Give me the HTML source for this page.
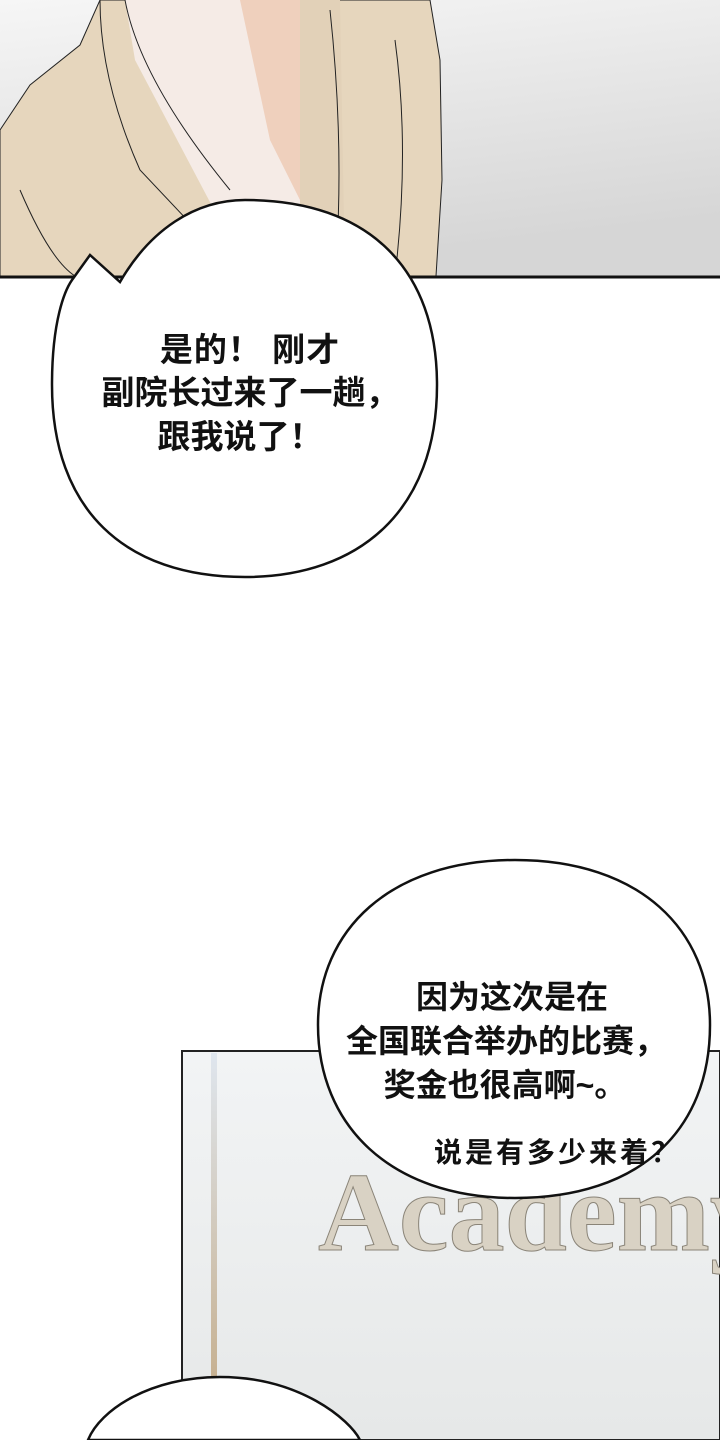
<!DOCTYPE html>
<html><head><meta charset="utf-8"><style>
html,body{margin:0;padding:0;background:#fff;}
svg{display:block}
text{font-family:"Liberation Sans","Noto Sans CJK SC",sans-serif;font-weight:bold;fill:#111}
</style></head><body>
<svg width="720" height="1440" viewBox="0 0 720 1440" xmlns="http://www.w3.org/2000/svg">
<defs>
<linearGradient id="bg" x1="0" y1="0" x2="0.3" y2="1">
<stop offset="0" stop-color="#f6f6f6"/><stop offset="1" stop-color="#d6d6d6"/></linearGradient>
<linearGradient id="bg2" x1="0" y1="0" x2="0" y2="1">
<stop offset="0" stop-color="#f2f4f5"/><stop offset="1" stop-color="#e6e8e8"/></linearGradient>
<linearGradient id="pole" x1="0" y1="0" x2="0" y2="1">
<stop offset="0" stop-color="#dfe6ee"/><stop offset="1" stop-color="#c6b090"/></linearGradient>
</defs>
<rect x="0" y="0" width="720" height="276" fill="url(#bg)"/>
<path d="M0 130 L30 85 L80 45 L100 0 L430 0 L440 60 L442 180 L436 276 L0 276 Z" fill="#e6d6bd" stroke="#222" stroke-width="1"/>
<path d="M125 0 L135 60 L230 240 L300 276 L300 0 Z" fill="#f5ebe6"/>
<path d="M240 0 L300 0 L300 200 L270 140 Z" fill="#efd0bd"/>
<path d="M300 0 L340 0 L345 276 L300 276 Z" fill="#e2d1b8"/>
<path d="M125 0 Q140 80 230 190" fill="none" stroke="#222" stroke-width="1"/>
<path d="M100 0 Q100 80 140 170 L240 276" fill="none" stroke="#222" stroke-width="1"/>
<path d="M20 190 Q50 260 75 276" fill="none" stroke="#222" stroke-width="1"/>
<path d="M395 40 Q410 150 395 276" fill="none" stroke="#222" stroke-width="1"/>
<path d="M330 10 Q345 150 335 276" fill="none" stroke="#222" stroke-width="1"/>
<line x1="0" y1="277" x2="720" y2="277" stroke="#111" stroke-width="3"/>
<rect x="182" y="1051" width="538" height="389" fill="url(#bg2)" stroke="#222" stroke-width="2"/>
<rect x="211" y="1053" width="6" height="330" fill="url(#pole)"/>
<text x="318" y="1250" font-size="112" style="font-family:'Liberation Serif',serif;font-weight:bold;fill:#d9d2c4;stroke:#8a8478;stroke-width:1">Academy</text>
<path d="M245 200 C370 200 437 270 437 385 C437 510 360 577 245 577 C125 577 52 510 52 385 C52 320 65 290 72 280 L90 255 L120 282 C150 230 195 200 245 200 Z" fill="#fff" stroke="#111" stroke-width="2.5"/>
<g font-size="33" text-anchor="middle">
<text x="250" y="361" letter-spacing="1">是的！ 刚才</text>
<text x="250" y="404">副院长过来了一趟，</text>
<text x="240" y="448">跟我说了！</text>
</g>
<path d="M515 860 C640 860 710 930 710 1025 C710 1130 640 1198 515 1198 C390 1198 318 1125 318 1025 C318 930 390 860 515 860 Z" fill="#fff" stroke="#111" stroke-width="2.5"/>
<g font-size="32" text-anchor="middle">
<text x="512" y="1008">因为这次是在</text>
<text x="506" y="1052">全国联合举办的比赛，</text>
<text x="505" y="1096">奖金也很高啊~。</text>
</g>
<text x="558" y="1162" font-size="28" text-anchor="middle" letter-spacing="3">说是有多少来着？</text>
<path d="M220 1377 C300 1377 350 1420 360 1440 L88 1440 C100 1410 150 1377 220 1377 Z" fill="#fff" stroke="#111" stroke-width="2.5"/>
</svg>
</body></html>
